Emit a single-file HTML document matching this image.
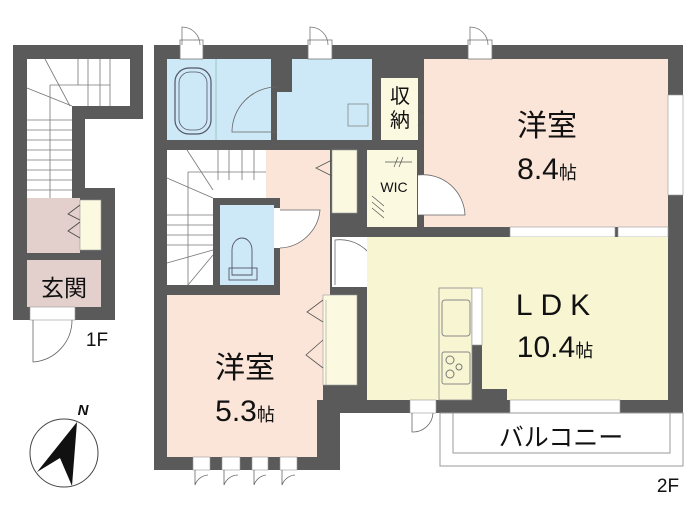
<!DOCTYPE html>
<html><head><meta charset="utf-8"><style>
html,body{margin:0;padding:0;background:#fff;width:700px;height:532px;overflow:hidden}
svg{display:block}
text{font-family:"Liberation Sans","Noto Sans CJK JP",sans-serif;fill:#111}
</style></head><body>
<svg width="700" height="532" viewBox="0 0 700 532" xmlns="http://www.w3.org/2000/svg">
<g fill="#5a5a5a">
<!-- 1F outline -->
<path d="M13 45 H143 V119 H85 V188 H115 V320 H13 Z"/>
<!-- 2F outline -->
<path d="M154 45 H683 V413 H340 V470 H154 Z"/>
</g>
<!-- 1F interior -->
<path d="M27 59 H130 V106 H72 V198 H27 Z" fill="#fff"/>
<g stroke="#777" stroke-width="0.8" fill="none">
<line x1="27" y1="120" x2="72" y2="120"/><line x1="27" y1="130" x2="72" y2="130"/><line x1="27" y1="140" x2="72" y2="140"/><line x1="27" y1="150" x2="72" y2="150"/><line x1="27" y1="160" x2="72" y2="160"/><line x1="27" y1="170" x2="72" y2="170"/><line x1="27" y1="180" x2="72" y2="180"/><line x1="27" y1="190" x2="72" y2="190"/>
<line x1="50" y1="85" x2="50" y2="198"/><line x1="50" y1="85" x2="110" y2="85"/>
<line x1="78" y1="59" x2="78" y2="85"/><line x1="88" y1="59" x2="88" y2="106"/><line x1="100" y1="59" x2="100" y2="106"/><line x1="110" y1="59" x2="110" y2="106"/>
<line x1="27" y1="88" x2="72" y2="106"/><line x1="45" y1="59" x2="70" y2="106"/>
</g>
<rect x="27" y="198" width="53" height="55" fill="#e3cfcb"/>
<rect x="80" y="200" width="21" height="50" fill="#fbf9e0" stroke="#999" stroke-width="0.6"/>
<path d="M80 205 L68 214 L80 220 M80 222 L68 231 L80 238" stroke="#444" stroke-width="0.8" fill="none"/>
<rect x="27" y="260" width="74" height="47" fill="#e3cfcb"/>
<rect x="30" y="307" width="45" height="13" fill="#fff" stroke="#999" stroke-width="0.6"/>
<path d="M33 320 V362 A42 42 0 0 0 72 320" stroke="#666" stroke-width="0.8" fill="none"/>
<text x="64" y="296" font-size="23" text-anchor="middle">玄関</text>
<text x="97" y="346" font-size="19" text-anchor="middle">1F</text>
<!-- compass -->
<circle cx="64" cy="453" r="34" fill="#fff" stroke="#444" stroke-width="1"/>
<path d="M77 422 L37 472 L60 458 L72 486 Z" fill="#111"/>
<text x="83" y="415" font-size="15" font-weight="bold" font-style="italic" text-anchor="middle">N</text>

<!-- 2F rooms -->
<rect x="167" y="59" width="104" height="81" fill="#cde8f7"/>
<rect x="175" y="68" width="36" height="66" rx="14" fill="none" stroke="#556" stroke-width="1.2"/>
<rect x="179" y="72" width="28" height="58" rx="11" fill="none" stroke="#556" stroke-width="0.8"/>
<line x1="216" y1="59" x2="216" y2="140" stroke="#6a8" stroke-width="0.5"/>
<path d="M292 59 H372 V140 H277 V92 H292 Z" fill="#cde8f7"/>
<path d="M277 132 H232 A45 45 0 0 1 277 87" stroke="#666" stroke-width="0.8" fill="none"/>
<rect x="348" y="104" width="20" height="22" fill="none" stroke="#888" stroke-width="0.8"/>
<rect x="381" y="78" width="37" height="62" fill="#fbf9e0"/>
<text x="400" y="103" font-size="20" text-anchor="middle">収</text>
<text x="400" y="127" font-size="20" text-anchor="middle">納</text>
<path d="M418 110 L432 118 L418 126" stroke="#555" fill="none" stroke-width="0.8"/>
<rect x="424" y="59" width="244" height="168" fill="#fbe5d8"/>
<rect x="668" y="95" width="15" height="100" fill="#fff" stroke="#999" stroke-width="0.6"/>
<!-- top doors -->
<g stroke="#777" stroke-width="0.8" fill="#fff">
<rect x="180" y="40" width="23" height="19"/><rect x="308" y="40" width="24" height="19"/><rect x="468" y="40" width="24" height="19"/>
</g>
<g stroke="#777" stroke-width="0.8" fill="none">
<path d="M182 45 V27 A18 18 0 0 1 200 45"/><path d="M310 45 V27 A18 18 0 0 1 328 45"/><path d="M470 45 V27 A18 18 0 0 1 488 45"/>
</g>
<!-- stairs -->
<rect x="167" y="150" width="99" height="135" fill="#fff"/>
<g stroke="#777" stroke-width="0.8" fill="none">
<line x1="218" y1="150" x2="218" y2="180"/><line x1="229" y1="150" x2="229" y2="180"/><line x1="242" y1="150" x2="242" y2="180"/><line x1="254" y1="150" x2="254" y2="180"/>
<line x1="188" y1="172" x2="266" y2="172"/><line x1="188" y1="172" x2="188" y2="285"/>
<line x1="167" y1="215" x2="213" y2="215"/><line x1="167" y1="225" x2="213" y2="225"/><line x1="167" y1="235" x2="213" y2="235"/><line x1="167" y1="245" x2="213" y2="245"/>
<line x1="167" y1="178" x2="213" y2="198"/><line x1="187" y1="150" x2="213" y2="190"/><line x1="167" y1="263" x2="213" y2="250"/><line x1="188" y1="285" x2="213" y2="255"/>
</g>
<rect x="266" y="150" width="64" height="145" fill="#fbe5d8"/>
<rect x="213" y="198" width="67" height="97" fill="#5a5a5a"/>
<rect x="220" y="205" width="54" height="80" fill="#cde8f7"/>
<path d="M232 275 V250 A10 12 0 0 1 252 250 V275 Z" fill="none" stroke="#556" stroke-width="0.9"/>
<rect x="229" y="268" width="28" height="12" fill="none" stroke="#556" stroke-width="0.9"/>
<rect x="274" y="208" width="6" height="40" fill="#fff"/>
<path d="M280 248 A42 42 0 0 0 320 210 H280" stroke="#666" stroke-width="0.8" fill="#fff"/>
<rect x="332" y="150" width="25" height="63" fill="#fbf9e0" stroke="#999" stroke-width="0.6"/>
<path d="M332 160 L316 168 L332 176" stroke="#555" fill="none" stroke-width="0.8"/>
<rect x="367" y="150" width="50" height="77" fill="#fbf9e0"/>
<text x="394" y="192" font-size="14" text-anchor="middle" font-family="Liberation Mono,monospace">WIC</text>
<g stroke="#555" stroke-width="0.7"><line x1="385" y1="162" x2="412" y2="162"/><line x1="398" y1="157" x2="394" y2="167"/><line x1="403" y1="157" x2="399" y2="167"/><line x1="372" y1="196" x2="384" y2="206"/><line x1="372" y1="202" x2="384" y2="212"/><line x1="372" y1="208" x2="384" y2="218"/></g>
<path d="M418 175 A42 42 0 0 1 465 215 H418" stroke="#666" stroke-width="0.8" fill="#fff"/>
<!-- 8.4 bottom windows -->
<rect x="510" y="227" width="105" height="10" fill="#fff" stroke="#999" stroke-width="0.6"/>
<rect x="618" y="227" width="50" height="10" fill="#fff" stroke="#999" stroke-width="0.6"/>
<!-- door area to LDK -->
<rect x="332" y="237" width="35" height="50" fill="#fff"/>
<path d="M335 285 V240 A38 38 0 0 1 378 278" stroke="#666" stroke-width="0.8" fill="none"/>
<!-- 5.3 room -->
<path d="M167 295 H323 V400 H317 V457 H167 Z" fill="#fbe5d8"/>
<rect x="323" y="295" width="34" height="90" fill="#fbf9e0" stroke="#999" stroke-width="0.6"/>
<path d="M323 300 L307 312 L323 322 M323 340 L306 355 L323 368" stroke="#555" fill="none" stroke-width="0.8"/>
<line x1="326" y1="300" x2="326" y2="385" stroke="#999" stroke-width="0.6"/>
<g fill="#fff" stroke="#999" stroke-width="0.6"><rect x="193" y="457" width="17" height="13"/><rect x="222" y="457" width="18" height="13"/><rect x="252" y="457" width="16" height="13"/><rect x="280" y="457" width="17" height="13"/></g>
<g stroke="#666" stroke-width="0.8" fill="none"><path d="M195 470 V485 A15 15 0 0 1 208 475"/><path d="M224 470 V485 A15 15 0 0 1 238 475"/><path d="M254 470 V485 A15 15 0 0 1 266 475"/><path d="M282 470 V485 A15 15 0 0 1 295 475"/></g>
<!-- LDK -->
<path d="M367 237 H668 V400 H507 V389 H482 V345 H472 V400 H367 Z" fill="#f7f5d2"/>
<rect x="439" y="288" width="33" height="112" fill="#f7f5d2" stroke="#888" stroke-width="0.8"/>
<rect x="472" y="288" width="10" height="57" fill="#fff" stroke="#999" stroke-width="0.6"/>
<rect x="442" y="300" width="28" height="36" rx="3" fill="none" stroke="#888" stroke-width="1"/>
<rect x="442" y="352" width="28" height="32" rx="2" fill="none" stroke="#888" stroke-width="1"/>
<circle cx="450" cy="360" r="4" fill="none" stroke="#777"/><circle cx="459" cy="367" r="3" fill="none" stroke="#777"/><circle cx="450" cy="374" r="4" fill="none" stroke="#777"/>
<rect x="510" y="400" width="110" height="13" fill="#fff" stroke="#999" stroke-width="0.6"/>
<rect x="410" y="400" width="26" height="13" fill="#fff" stroke="#999" stroke-width="0.6"/>
<path d="M412 413 V432 A20 20 0 0 0 433 413" stroke="#666" stroke-width="0.8" fill="none"/>
<!-- balcony -->
<rect x="440" y="413" width="243" height="53" fill="none" stroke="#999" stroke-width="1"/>
<rect x="453" y="413" width="217" height="40" fill="none" stroke="#999" stroke-width="1"/>
<!-- labels -->
<text x="547" y="136" font-size="30" text-anchor="middle">洋室</text>
<text x="547" y="179" font-size="30" text-anchor="middle">8.4<tspan font-size="18">帖</tspan></text>
<text x="557" y="315" font-size="30" text-anchor="middle" letter-spacing="8">LDK</text>
<text x="555" y="357" font-size="30" text-anchor="middle">10.4<tspan font-size="18">帖</tspan></text>
<text x="245" y="378" font-size="30" text-anchor="middle">洋室</text>
<text x="245" y="421" font-size="30" text-anchor="middle">5.3<tspan font-size="18">帖</tspan></text>
<text x="561" y="446" font-size="25" text-anchor="middle">バルコニー</text>
<text x="668" y="492" font-size="19" text-anchor="middle">2F</text>
</svg>
</body></html>
